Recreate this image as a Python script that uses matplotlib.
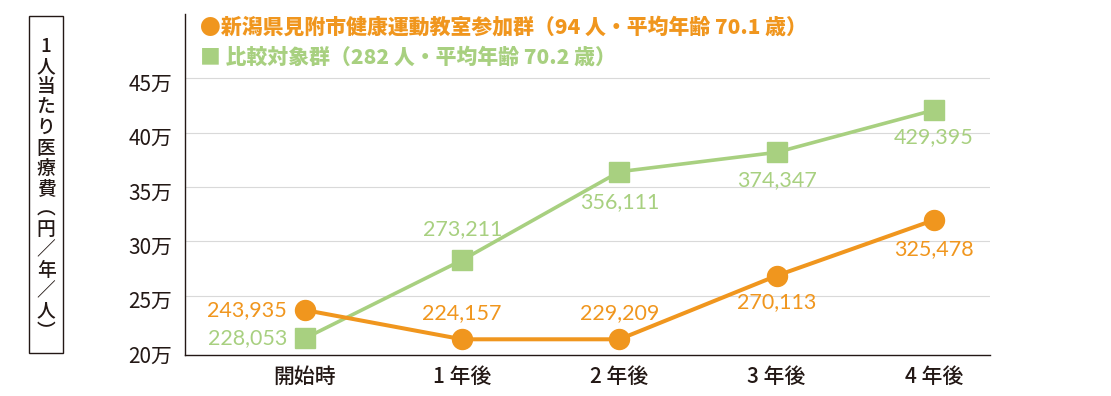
import matplotlib
matplotlib.use("Agg")
import matplotlib.pyplot as plt
from matplotlib.patches import Rectangle
from matplotlib.transforms import ScaledTranslation

# ---- data ----
categories = ["開始時", "1 年後", "2 年後", "3 年後", "4 年後"]
# plotted positions (in 万円) as drawn in the reference
orange_pos = [23.68, 20.99, 20.99, 26.84, 31.96]
green_pos = [21.08, 28.28, 36.41, 38.19, 42.08]
# printed values
orange_vals = [243935, 224157, 229209, 270113, 325478]
green_vals = [228053, 273211, 356111, 374347, 429395]
y_ticks = [20, 25, 30, 35, 40, 45]
y_ticklabels = ["20万", "25万", "30万", "35万", "40万", "45万"]
legend_orange = "●新潟県見附市健康運動教室参加群（94 人・平均年齢 70.1 歳）"
legend_green = "■ 比較対象群（282 人・平均年齢 70.2 歳）"
ytitle_chars = list("1人当たり医療費") + ["︵", "円", "／", "年", "／", "人", "︶"]

ORANGE = "#F0961E"
GREEN = "#A8D080"
DARK = "#231815"
CJK = ["Noto Sans CJK JP", "DejaVu Sans"]

W, H = 1111, 396
fig = plt.figure(figsize=(W / 100, H / 100), dpi=100)

def fx(px):
    return px / W

def fy(py):
    return 1 - py / H

ax = fig.add_axes([fx(185), fy(355), fx(990 - 185), (355 - 14) / H])
x = list(range(len(categories)))
ax.set_xlim(-0.763, 4.357)
ax.set_ylim(19.545, 50.92)

for s in ["top", "right"]:
    ax.spines[s].set_visible(False)
for s in ["left", "bottom"]:
    ax.spines[s].set_color(DARK)
    ax.spines[s].set_linewidth(1.0)

ax.set_yticks(y_ticks)
ax.set_yticklabels(y_ticklabels, family=CJK, fontsize=15, color=DARK)
ax.set_xticks(x)
ax.set_xticklabels(categories, family=CJK, fontsize=15, color=DARK, fontweight="medium")
ax.tick_params(axis="both", length=0)
ax.tick_params(axis="y", pad=9)
ax.tick_params(axis="x", pad=8)
off = ScaledTranslation(0, -4 / 100, fig.dpi_scale_trans)
for lab in ax.get_yticklabels():
    lab.set_transform(lab.get_transform() + off)

for yv in y_ticks[1:]:
    ax.axhline(yv, color="#d9d9d9", lw=0.8, zorder=0)

ax.plot(x, green_pos, color=GREEN, lw=2.6, marker="s", ms=14.4, mec=GREEN, mfc=GREEN, zorder=3)
ax.plot(x, orange_pos, color=ORANGE, lw=2.9, marker="o", ms=14.4, mec=ORANGE, mfc=ORANGE, zorder=4)

px2pt = 72 / 100
orange_off = [(-18, 0, "right"), (0, 26, "center"), (0, 26, "center"), (0, -26, "center"), (0, -29, "center")]
green_off = [(-18, 0, "right"), (0, 31, "center"), (0, -30, "center"), (0, -28, "center"), (0, -27, "center")]
lab_font = dict(family=["Lato", "DejaVu Sans"], fontweight="normal", fontsize=15.5)
for xi, yp, v, (dx, dy, ha) in zip(x, orange_pos, orange_vals, orange_off):
    ax.annotate(f"{v:,}", (xi, yp), xytext=(dx * px2pt, dy * px2pt), textcoords="offset points",
                ha=ha, va="center", color=ORANGE, zorder=5, **lab_font)
for xi, yp, v, (dx, dy, ha) in zip(x, green_pos, green_vals, green_off):
    ax.annotate(f"{v:,}", (xi, yp), xytext=(dx * px2pt, dy * px2pt), textcoords="offset points",
                ha=ha, va="center", color=GREEN, zorder=5, **lab_font)

# legend texts
fig.text(fx(200), fy(27.5), legend_orange, family=CJK, fontsize=15, fontweight="heavy",
         color=ORANGE, ha="left", va="center")
fig.text(fx(200), fy(57), legend_green, family=CJK, fontsize=15, fontweight="heavy",
         color=GREEN, ha="left", va="center")

# vertical y-axis title in a box
fig.patches.append(Rectangle((fx(29), fy(353)), fx(63 - 29), (353 - 16) / H,
                             transform=fig.transFigure, fill=False, edgecolor=DARK, lw=1.0))
y0, step = 46, 20.4
for i, ch in enumerate(ytitle_chars):
    fig.text(fx(46), fy(y0 + i * step), ch, family=CJK, fontsize=13.5, color=DARK,
             fontweight="medium", ha="center", va="center")

fig.savefig("out.png", dpi=100)
